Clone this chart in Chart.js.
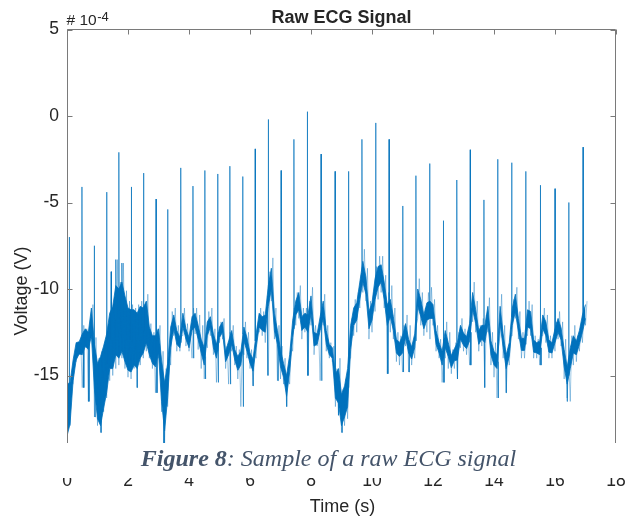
<!DOCTYPE html>
<html>
<head>
<meta charset="utf-8">
<script src="https://cdn.jsdelivr.net/npm/chart.js@4.4.1/dist/chart.umd.min.js"></script>
<style>
  html, body { margin: 0; padding: 0; background: #ffffff; }
  #wrap { width: 631px; height: 519px; }
</style>
</head>
<body>
<div id="wrap"><canvas id="c" width="631" height="519" style="width:631px;height:519px"></canvas></div>
<script>
// ---------------- DATA (voltages in units of 1e-4 V) ----------------
const chartTitle = 'Raw ECG Signal';
const xLabel = 'Time (s)';
const yLabel = 'Voltage (V)';
const captionBold = 'Figure 8';
const captionRest = ': Sample of a raw ECG signal';

const xTicks = [0, 2, 4, 6, 8, 10, 12, 14, 16, 18];
const yTicks = [-20, -15, -10, -5, 0, 5];

// all instants below are read every 0.1 s from 0.0 s to 17.0 s
const sampleStart = 0;
const sampleStep = 0.1;

// wandering baseline level
const baseline = [
  -17.0, -16.6, -14.7, -13.6, -13.4, -13.2, -12.8, -13.0, -11.9, -14.5,
  -15.9, -15.9, -15.1, -14.3, -13.0, -12.8, -11.8, -12.0, -11.6, -12.3,
  -12.9, -13.0, -12.8, -13.0, -12.5, -12.4, -11.9, -13.0, -13.5, -13.6,
  -13.0, -15.3, -16.8, -15.3, -12.8, -11.9, -12.8, -13.1, -11.8, -12.6,
  -13.1, -12.0, -11.8, -12.5, -13.3, -13.9, -12.3, -11.9, -13.0, -13.6,
  -12.5, -12.2, -13.9, -13.4, -12.8, -13.8, -14.3, -14.0, -12.6, -13.2,
  -14.0, -14.4, -13.0, -11.8, -12.0, -12.0, -10.4, -9.4, -11.9, -12.8,
  -14.0, -14.7, -15.6, -14.3, -12.3, -11.1, -10.7, -12.0, -11.8, -12.0,
  -10.9, -12.9, -12.9, -12.0, -11.2, -12.8, -13.5, -13.7, -15.6, -15.6,
  -17.0, -16.5, -15.7, -12.8, -11.6, -11.3, -10.1, -9.0, -9.8, -11.8,
  -11.3, -10.0, -9.3, -9.1, -10.1, -11.5, -11.1, -12.0, -13.3, -13.5,
  -13.2, -12.4, -13.3, -13.7, -13.0, -10.5, -11.1, -11.9, -11.3, -11.2,
  -11.3, -12.8, -13.4, -14.0, -12.9, -13.5, -14.2, -13.8, -13.6, -12.5,
  -12.9, -13.1, -12.5, -10.7, -11.6, -12.8, -12.5, -12.6, -11.5, -13.4,
  -14.0, -14.2, -11.5, -13.0, -14.2, -13.5, -11.6, -10.8, -12.1, -13.2,
  -13.2, -11.7, -11.8, -13.3, -13.4, -13.4, -11.9, -12.3, -13.3, -13.4,
  -12.7, -12.1, -12.6, -14.0, -15.0, -14.0, -13.2, -13.4, -12.8, -12.0,
  -11.3
];
// half-thickness of the dense core of the noise band
const noiseHalfWidth = [
  1.5, 1.2, 0.6, 0.5, 0.35, 0.6, 0.5, 0.5, 0.8, 1.3,
  1.6, 2.0, 1.8, 1.7, 1.6, 1.8, 2.0, 2.0, 2.0, 1.9,
  1.8, 1.8, 1.6, 1.6, 1.5, 1.3, 1.2, 0.8, 0.8, 0.9,
  0.7, 1.2, 1.4, 1.0, 0.6, 0.4, 0.4, 0.3, 0.4, 0.3,
  0.3, 0.4, 0.4, 0.4, 0.4, 0.5, 0.4, 0.3, 0.4, 0.4,
  0.3, 0.3, 0.3, 0.4, 0.4, 0.3, 0.4, 0.4, 0.4, 0.4,
  0.3, 0.35, 0.4, 0.4, 0.4, 0.5, 0.6, 0.6, 0.5, 0.4,
  0.5, 0.4, 0.6, 0.5, 0.5, 0.4, 0.5, 0.4, 0.4, 0.5,
  0.5, 0.4, 0.3, 0.4, 0.5, 0.4, 0.3, 0.3, 0.7, 1.0,
  0.9, 0.9, 1.1, 0.7, 0.5, 0.5, 0.5, 0.6, 0.5, 0.5,
  0.5, 0.6, 0.6, 0.5, 0.5, 0.6, 0.5, 0.4, 0.4, 0.4,
  0.5, 0.4, 0.4, 0.35, 0.4, 0.5, 0.5, 0.4, 0.5, 0.5,
  0.4, 0.4, 0.3, 0.4, 0.5, 0.4, 0.35, 0.35, 0.5, 0.4,
  0.35, 0.35, 0.5, 0.5, 0.4, 0.4, 0.4, 0.5, 0.5, 0.4,
  0.4, 0.4, 0.5, 0.4, 0.4, 0.4, 0.5, 0.5, 0.4, 0.35,
  0.35, 0.5, 0.5, 0.35, 0.3, 0.4, 0.4, 0.4, 0.35, 0.3,
  0.4, 0.4, 0.35, 0.5, 0.5, 0.6, 0.5, 0.4, 0.4, 0.5,
  0.4
];
// full extent (lowest / highest excursion) of the trace around each instant
const bandLow = [
  -18.9, -17.9, -15.5, -14.2, -13.8, -15.7, -13.4, -16.5, -12.9, -17.4,
  -17.9, -18.3, -17.1, -16.3, -15.3, -15.0, -14.6, -14.4, -14.0, -14.6,
  -15.1, -15.2, -14.6, -15.7, -14.4, -14.0, -13.6, -14.0, -14.6, -16.0,
  -14.0, -17.1, -18.9, -16.8, -14.4, -12.7, -13.6, -13.6, -12.7, -13.3,
  -13.6, -14.0, -12.6, -13.5, -14.6, -15.2, -13.4, -12.7, -13.8, -15.4,
  -13.1, -12.9, -14.6, -15.5, -13.6, -14.4, -15.2, -16.8, -13.8, -14.0,
  -14.6, -15.6, -14.0, -12.5, -12.7, -13.1, -15.0, -10.7, -12.9, -15.3,
  -15.2, -15.5, -16.8, -15.5, -13.6, -12.1, -11.7, -12.9, -12.5, -15.0,
  -12.1, -13.8, -13.3, -15.3, -12.1, -13.6, -14.0, -14.2, -16.8, -17.3,
  -18.3, -17.9, -17.5, -14.0, -12.7, -12.5, -11.1, -10.2, -10.7, -12.9,
  -12.5, -11.3, -10.6, -10.2, -11.1, -14.9, -12.5, -12.9, -14.2, -14.4,
  -14.8, -13.3, -14.8, -14.4, -14.0, -11.7, -12.1, -12.7, -12.5, -12.9,
  -12.1, -13.6, -14.0, -15.4, -14.0, -14.6, -14.9, -14.6, -15.2, -13.4,
  -13.6, -13.8, -14.4, -11.9, -12.5, -13.6, -13.3, -15.7, -12.5, -14.4,
  -15.1, -16.3, -12.7, -14.0, -16.0, -14.4, -12.7, -11.7, -12.9, -14.0,
  -14.0, -12.7, -12.7, -14.0, -14.0, -14.4, -12.7, -13.1, -14.0, -14.0,
  -13.6, -12.9, -13.3, -15.2, -16.3, -16.5, -14.4, -14.2, -13.6, -13.1,
  -12.1
];
const bandHigh = [
  -15.5, -15.4, -14.0, -13.1, -13.1, -12.1, -12.3, -12.5, -10.9, -12.8,
  -14.0, -13.6, -13.1, -12.3, -9.0, -10.8, -8.3, -9.6, -8.5, -10.1,
  -10.7, -10.9, -11.1, -10.9, -10.7, -10.9, -10.3, -12.0, -12.5, -12.3,
  -12.1, -13.6, -14.6, -13.9, -11.3, -11.1, -12.1, -12.7, -11.1, -12.0,
  -12.7, -11.1, -11.1, -11.5, -12.1, -12.9, -11.3, -11.1, -12.3, -12.7,
  -11.9, -11.7, -13.3, -12.5, -12.1, -13.3, -13.5, -13.3, -11.9, -12.5,
  -13.5, -13.7, -12.1, -11.1, -11.3, -11.1, -9.0, -8.2, -11.1, -12.1,
  -13.3, -14.0, -14.9, -13.2, -11.1, -10.2, -9.8, -11.1, -11.1, -10.7,
  -9.9, -12.1, -12.5, -11.3, -10.3, -12.1, -13.1, -13.3, -14.6, -14.0,
  -15.8, -15.2, -14.0, -11.7, -10.6, -10.2, -9.2, -7.7, -8.8, -10.7,
  -10.2, -8.7, -8.1, -8.1, -9.2, -10.2, -9.8, -11.1, -12.5, -12.7,
  -12.1, -11.5, -12.1, -13.1, -12.1, -9.4, -10.2, -11.1, -10.2, -9.9,
  -10.6, -12.1, -12.9, -13.1, -11.9, -12.5, -13.5, -13.1, -12.5, -11.7,
  -12.3, -12.5, -11.1, -9.6, -10.7, -12.1, -11.7, -11.5, -10.5, -12.5,
  -13.1, -13.3, -10.3, -12.1, -13.6, -12.7, -10.6, -9.9, -11.3, -12.5,
  -12.5, -10.7, -10.9, -12.7, -12.9, -12.7, -11.1, -11.5, -12.7, -12.9,
  -11.9, -11.3, -11.9, -12.9, -14.0, -12.7, -12.1, -12.7, -12.1, -11.1,
  -10.7
];

// R-wave spikes: time (s) and peak voltage
const rPeakTimes = [
  0.075, 0.49, 0.895, 1.30, 1.70, 2.11, 2.51, 2.92, 3.30, 3.73,
  4.13, 4.52, 4.94, 5.34, 5.76, 6.17, 6.60, 7.02, 7.44, 7.88,
  8.33, 8.79, 9.23, 9.67, 10.12, 10.56, 11.01, 11.44, 11.89, 12.34,
  12.78, 13.22, 13.67, 14.12, 14.58, 15.04, 15.52, 16.00, 16.45, 16.92
];
const rPeakValues = [
  -7.0, -4.1, -7.5, -4.4, -2.1, -4.1, -3.3, -4.8, -5.4, -3.0,
  -4.05, -3.15, -3.35, -2.9, -3.5, -1.9, -0.2, -3.15, -1.35, 0.25,
  -2.2, -3.2, -3.2, -1.35, -0.4, -1.35, -5.2, -3.45, -2.75, -6.05,
  -3.7, -1.95, -4.85, -2.5, -2.7, -3.2, -4.0, -4.2, -5.0, -1.8
];

// thin noise excursions (mostly downward S-wave dips)
const spikeTimes = [
  0.55, 0.72, 0.92, 1.12, 1.45, 1.60, 1.80, 2.30, 2.95, 3.18,
  4.15, 4.54, 4.96, 5.36, 5.78, 6.10, 6.58, 6.92, 7.20, 7.90,
  8.35, 8.90, 9.02, 10.52, 11.03, 11.22, 12.36, 12.80, 13.24, 13.69,
  14.14, 14.40, 15.54, 16.40
];
const spikeValues = [
  -15.7, -16.5, -17.4, -18.3, -9.0, -8.3, -8.5, -15.7, -16.0, -19.5,
  -14.0, -15.2, -15.4, -15.5, -16.8, -15.6, -15.0, -15.3, -16.8, -15.0,
  -15.3, -17.3, -18.3, -14.9, -14.8, -14.8, -15.4, -15.2, -14.4, -15.7,
  -16.3, -16.0, -14.4, -16.5
];

// ---------------- BUILD SERIES ----------------
const timeAt = i => +(sampleStart + i * sampleStep).toFixed(2);
const upperBand = baseline.map((v, i) => ({ x: timeAt(i), y: v + noiseHalfWidth[i] }));
const lowerBand = baseline.map((v, i) => ({ x: timeAt(i), y: v - noiseHalfWidth[i] }));

// light fringe: trace swinging between the read extremes
const fringe = [];
bandLow.forEach((lo, i) => {
  const t = timeAt(i);
  fringe.push({ x: t, y: lo });
  fringe.push({ x: +(t + sampleStep / 2).toFixed(3), y: bandHigh[i] });
});

function baseAt(t) {
  const i = Math.min(baseline.length - 1, Math.max(0, Math.round((t - sampleStart) / sampleStep)));
  return baseline[i];
}
const spikePoints = [];
rPeakTimes.map((t, k) => [t, rPeakValues[k]])
  .concat(spikeTimes.map((t, k) => [t, spikeValues[k]]))
  .sort((a, b) => a[0] - b[0])
  .forEach(([t, v]) => {
    spikePoints.push({ x: t - 0.008, y: baseAt(t) });
    spikePoints.push({ x: t, y: v });
    spikePoints.push({ x: t + 0.008, y: baseAt(t) });
    spikePoints.push({ x: t + 0.009, y: null });
  });

// ---------------- STYLE ----------------
const sansFamily = '"Liberation Sans", Arial, Helvetica, sans-serif';
const serifFamily = '"Liberation Serif", "Times New Roman", serif';
const textColor = '#262626';
const axisColor = '#7a7a7a';
const lineColor = '#0072BD';

const framePlugin = {
  id: 'matlabFrame',
  afterDraw(chart) {
    const ctx = chart.ctx;
    const a = chart.chartArea;
    const xs = chart.scales.x, ys = chart.scales.y;
    const L = Math.round(a.left) + 0.5, R = Math.round(a.right) - 0.5;
    const T = Math.floor(a.top) + 0.5, B = Math.round(a.bottom) - 0.5;
    ctx.save();
    ctx.strokeStyle = axisColor;
    ctx.lineWidth = 1;
    ctx.beginPath();
    ctx.rect(L, T, R - L, B - T);
    const tl = 5;
    xTicks.forEach(v => {
      const px = Math.round(xs.getPixelForValue(v)) + 0.5;
      ctx.moveTo(px, T); ctx.lineTo(px, T + tl);
      ctx.moveTo(px, B); ctx.lineTo(px, B - tl);
    });
    yTicks.forEach(v => {
      const py = Math.round(ys.getPixelForValue(v)) + 0.5;
      ctx.moveTo(L, py); ctx.lineTo(L + tl, py);
      ctx.moveTo(R, py); ctx.lineTo(R - tl, py);
    });
    ctx.stroke();

    const cx = (a.left + a.right) / 2;
    ctx.fillStyle = textColor;
    ctx.textAlign = 'center';
    ctx.textBaseline = 'alphabetic';
    ctx.font = 'bold 18px ' + sansFamily;
    ctx.fillText(chartTitle, cx, 22.5);

    ctx.textAlign = 'left';
    ctx.font = '15.5px ' + sansFamily;
    ctx.fillText('# 10', 66.5, 25);
    const w10 = ctx.measureText('# 10').width;
    ctx.font = '13px ' + sansFamily;
    ctx.fillText('-4', 66.5 + w10 + 0.5, 20.5);

    ctx.font = '18px ' + sansFamily;
    ctx.textAlign = 'center';
    ctx.fillText(xLabel, cx + 1, 511.5);
    ctx.save();
    ctx.translate(26.5, 291);
    ctx.rotate(-Math.PI / 2);
    ctx.fillText(yLabel, 0, 0);
    ctx.restore();

    // caption overlay
    ctx.fillStyle = '#ffffff';
    ctx.fillRect(0, 443, chart.width, 35);
    ctx.fillStyle = '#44546A';
    ctx.textAlign = 'left';
    const capSize = 24;
    ctx.font = 'italic bold ' + capSize + 'px ' + serifFamily;
    const wb = ctx.measureText(captionBold).width;
    ctx.font = 'italic ' + capSize + 'px ' + serifFamily;
    const wr = ctx.measureText(captionRest).width;
    const startX = 328.5 - (wb + wr) / 2;
    ctx.font = 'italic bold ' + capSize + 'px ' + serifFamily;
    ctx.fillText(captionBold, startX, 465.5);
    ctx.font = 'italic ' + capSize + 'px ' + serifFamily;
    ctx.fillText(captionRest, startX + wb, 465.5);
    ctx.restore();
  }
};

new Chart(document.getElementById('c').getContext('2d'), {
  type: 'scatter',
  data: {
    datasets: [
      {
        label: 'upper',
        data: upperBand,
        showLine: true,
        borderColor: lineColor,
        backgroundColor: lineColor,
        borderWidth: 0.8,
        pointRadius: 0,
        tension: 0,
        fill: '+1',
        order: 3
      },
      {
        label: 'lower',
        data: lowerBand,
        showLine: true,
        borderColor: lineColor,
        borderWidth: 0.8,
        pointRadius: 0,
        tension: 0,
        fill: false,
        order: 2
      },
      {
        label: 'fringe',
        data: fringe,
        showLine: true,
        borderColor: 'rgba(0,114,189,0.55)',
        borderWidth: 0.7,
        pointRadius: 0,
        tension: 0,
        fill: false,
        order: 1
      },
      {
        label: 'spikes',
        data: spikePoints,
        showLine: true,
        spanGaps: false,
        borderColor: 'rgba(0,114,189,0.85)',
        borderWidth: 0.8,
        pointRadius: 0,
        tension: 0,
        fill: false,
        order: 0
      }
    ]
  },
  options: {
    responsive: false,
    animation: false,
    events: [],
    layout: { padding: { top: 29.5, right: 15, left: 0, bottom: 0 } },
    plugins: {
      legend: { display: false },
      tooltip: { enabled: false },
      title: { display: false },
      filler: { drawTime: 'beforeDatasetsDraw' }
    },
    scales: {
      x: {
        type: 'linear',
        min: 0, max: 18,
        afterBuildTicks: s => { s.ticks = xTicks.map(v => ({ value: v })); },
        afterFit: s => { s.height = 57; s.paddingLeft = 0; s.paddingRight = 0; },
        grid: { display: false, drawTicks: false },
        border: { display: false },
        ticks: {
          padding: 9,
          autoSkip: false,
          maxRotation: 0,
          color: textColor,
          font: { family: sansFamily, size: 17.5 },
          callback: v => String(v)
        }
      },
      y: {
        type: 'linear',
        min: -20, max: 5,
        afterBuildTicks: s => { s.ticks = yTicks.map(v => ({ value: v })); },
        afterFit: s => { s.width = 67; s.paddingTop = 0; s.paddingBottom = 0; },
        grid: { display: false, drawTicks: false },
        border: { display: false },
        ticks: {
          padding: 8,
          color: textColor,
          font: { family: sansFamily, size: 17.5 },
          callback: v => String(v)
        }
      }
    }
  },
  plugins: [framePlugin]
});
</script>
</body>
</html>
